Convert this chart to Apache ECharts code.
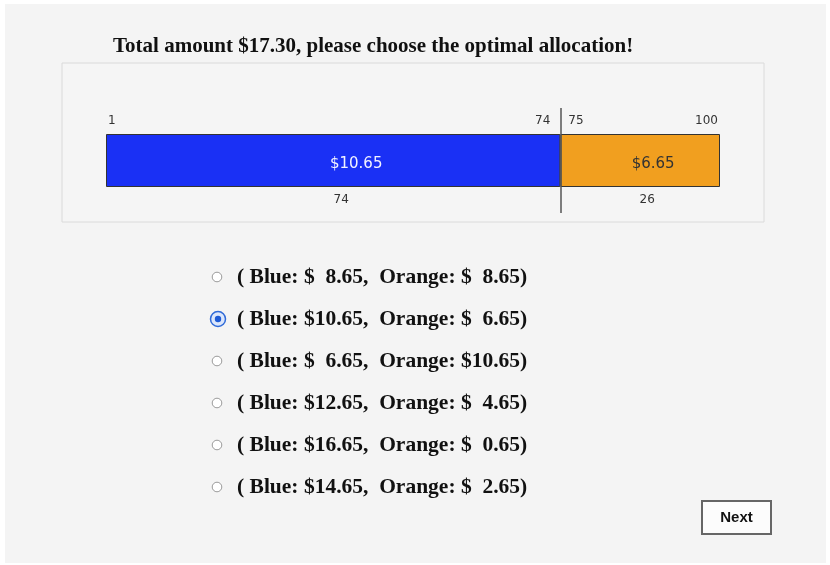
<!DOCTYPE html>
<html>
<head>
<meta charset="utf-8">
<script src="https://cdn.jsdelivr.net/npm/echarts@6/dist/echarts.min.js"></script>
<style>
    html, body { margin: 0; padding: 0; background: #fff; }
    #main { width: 830px; height: 565px; }
</style>
</head>
<body>
<div id="main"></div>
<script>
    // split of the 100 units between blue and orange
    const units = [74, 26];
    const amounts = [10.65, 6.65];
    const seriesNames = ['Blue', 'Orange'];
    const barColors = ['#1a30f5', '#f19f1f'];
    const totalAmount = 17.30;

    // answer choices
    const blueChoices = [8.65, 10.65, 6.65, 12.65, 16.65, 14.65];
    const orangeChoices = [8.65, 6.65, 10.65, 4.65, 0.65, 2.65];
    const selectedIndex = 1;

    const chart = echarts.init(document.getElementById('main'));

    const money = (v) => v.toFixed(2);
    // "$  8.65" pads with two spaces (one digit wide) so the columns line up
    const dollar = (v) => '$' + (v < 10 ? '  ' : '') + money(v);

    chart.setOption({
        backgroundColor: '#fff',
        animation: false,
        grid: { left: 106, width: 614, top: 108, height: 105 },
        xAxis: { type: 'value', min: 0, max: 100, show: false },
        yAxis: { type: 'category', data: ['allocation'], show: false },
        series: [
            {
                name: seriesNames[0],
                type: 'bar',
                stack: 'all',
                barWidth: 53,
                data: [units[0]],
                itemStyle: { color: barColors[0], borderColor: '#333', borderWidth: 1 },
                label: {
                    show: true,
                    position: 'inside',
                    offset: [23, 4],
                    color: '#f2f2ff',
                    fontFamily: 'DejaVu Sans',
                    fontSize: 15,
                    formatter: () => '$' + money(amounts[0])
                },
                markLine: {
                    silent: true,
                    symbol: 'none',
                    label: { show: false },
                    lineStyle: { color: '#555', width: 1.5, type: 'solid' },
                    data: [{ xAxis: units[0] }]
                }
            },
            {
                name: seriesNames[1],
                type: 'bar',
                stack: 'all',
                barWidth: 53,
                data: [units[1]],
                itemStyle: { color: barColors[1], borderColor: '#333', borderWidth: 1 },
                label: {
                    show: true,
                    position: 'inside',
                    offset: [13, 4],
                    color: '#333',
                    fontFamily: 'DejaVu Sans',
                    fontSize: 15,
                    formatter: () => '$' + money(amounts[1])
                }
            }
        ]
    });

    // unit range labels above and counts below, placed through the x scale
    const px = (v) => chart.convertToPixel({ gridIndex: 0 }, [v, 0])[0];
    const smallFont = '12px "DejaVu Sans", sans-serif';
    const split = px(units[0]);
    const graphics = [
        { type: 'rect', silent: true, z: -10, shape: { x: 5, y: 4, width: 821, height: 559 }, style: { fill: '#f4f4f4' } },
        { type: 'rect', silent: true, z: -9, shape: { x: 62, y: 63, width: 702, height: 159 }, style: { fill: '#f5f5f5', stroke: '#dadada', lineWidth: 1 } },
        { type: 'text', x: 113, y: 47, style: { text: 'Total amount $' + totalAmount.toFixed(2) + ', please choose the optimal allocation!', font: 'bold 21px "Liberation Serif", serif', fill: '#111', verticalAlign: 'middle' } },
        { type: 'text', x: px(0) + 2, y: 121, style: { text: '1', font: smallFont, fill: '#333', verticalAlign: 'middle' } },
        { type: 'text', x: split - 10, y: 121, style: { text: String(units[0]), font: smallFont, fill: '#333', align: 'right', verticalAlign: 'middle' } },
        { type: 'text', x: split + 8, y: 121, style: { text: String(units[0] + 1), font: smallFont, fill: '#333', verticalAlign: 'middle' } },
        { type: 'text', x: px(100) - 2, y: 121, style: { text: String(units[0] + units[1]), font: smallFont, fill: '#333', align: 'right', verticalAlign: 'middle' } },
        { type: 'text', x: px(units[0] / 2) + 8, y: 200, style: { text: String(units[0]), font: smallFont, fill: '#333', align: 'center', verticalAlign: 'middle' } },
        { type: 'text', x: px(units[0] + units[1] / 2) + 7, y: 200, style: { text: String(units[1]), font: smallFont, fill: '#333', align: 'center', verticalAlign: 'middle' } }
    ];

    // radio rows
    const rowY = [277, 319, 361, 403, 445, 487];
    blueChoices.forEach((b, i) => {
        const y = rowY[i];
        if (i === selectedIndex) {
            graphics.push({ type: 'circle', shape: { cx: 218, cy: y, r: 7.5 }, style: { fill: '#dbe6fb', stroke: '#2f6ad8', lineWidth: 1.5 } });
            graphics.push({ type: 'circle', shape: { cx: 218, cy: y, r: 3.2 }, style: { fill: '#1d5ad6' } });
        } else {
            graphics.push({ type: 'circle', shape: { cx: 217, cy: y, r: 4.8 }, style: { fill: '#fff', stroke: '#9a9a9a', lineWidth: 1 } });
        }
        graphics.push({
            type: 'text', x: 237, y: y,
            style: {
                text: '( Blue: ' + dollar(b) + ',  Orange: ' + dollar(orangeChoices[i]) + ')',
                font: 'bold 21.5px "Liberation Serif", "Times New Roman", serif',
                fill: '#111',
                verticalAlign: 'middle'
            }
        });
    });

    // next button
    graphics.push(
        { type: 'rect', shape: { x: 702, y: 501, width: 69, height: 33 }, style: { fill: '#fcfcfc', stroke: '#666', lineWidth: 2 } },
        { type: 'text', x: 736.5, y: 517.5, style: { text: 'Next', font: 'bold 15px "Liberation Sans", Arial, sans-serif', fill: '#111', align: 'center', verticalAlign: 'middle' } }
    );

    chart.setOption({ graphic: graphics });
</script>
</body>
</html>
